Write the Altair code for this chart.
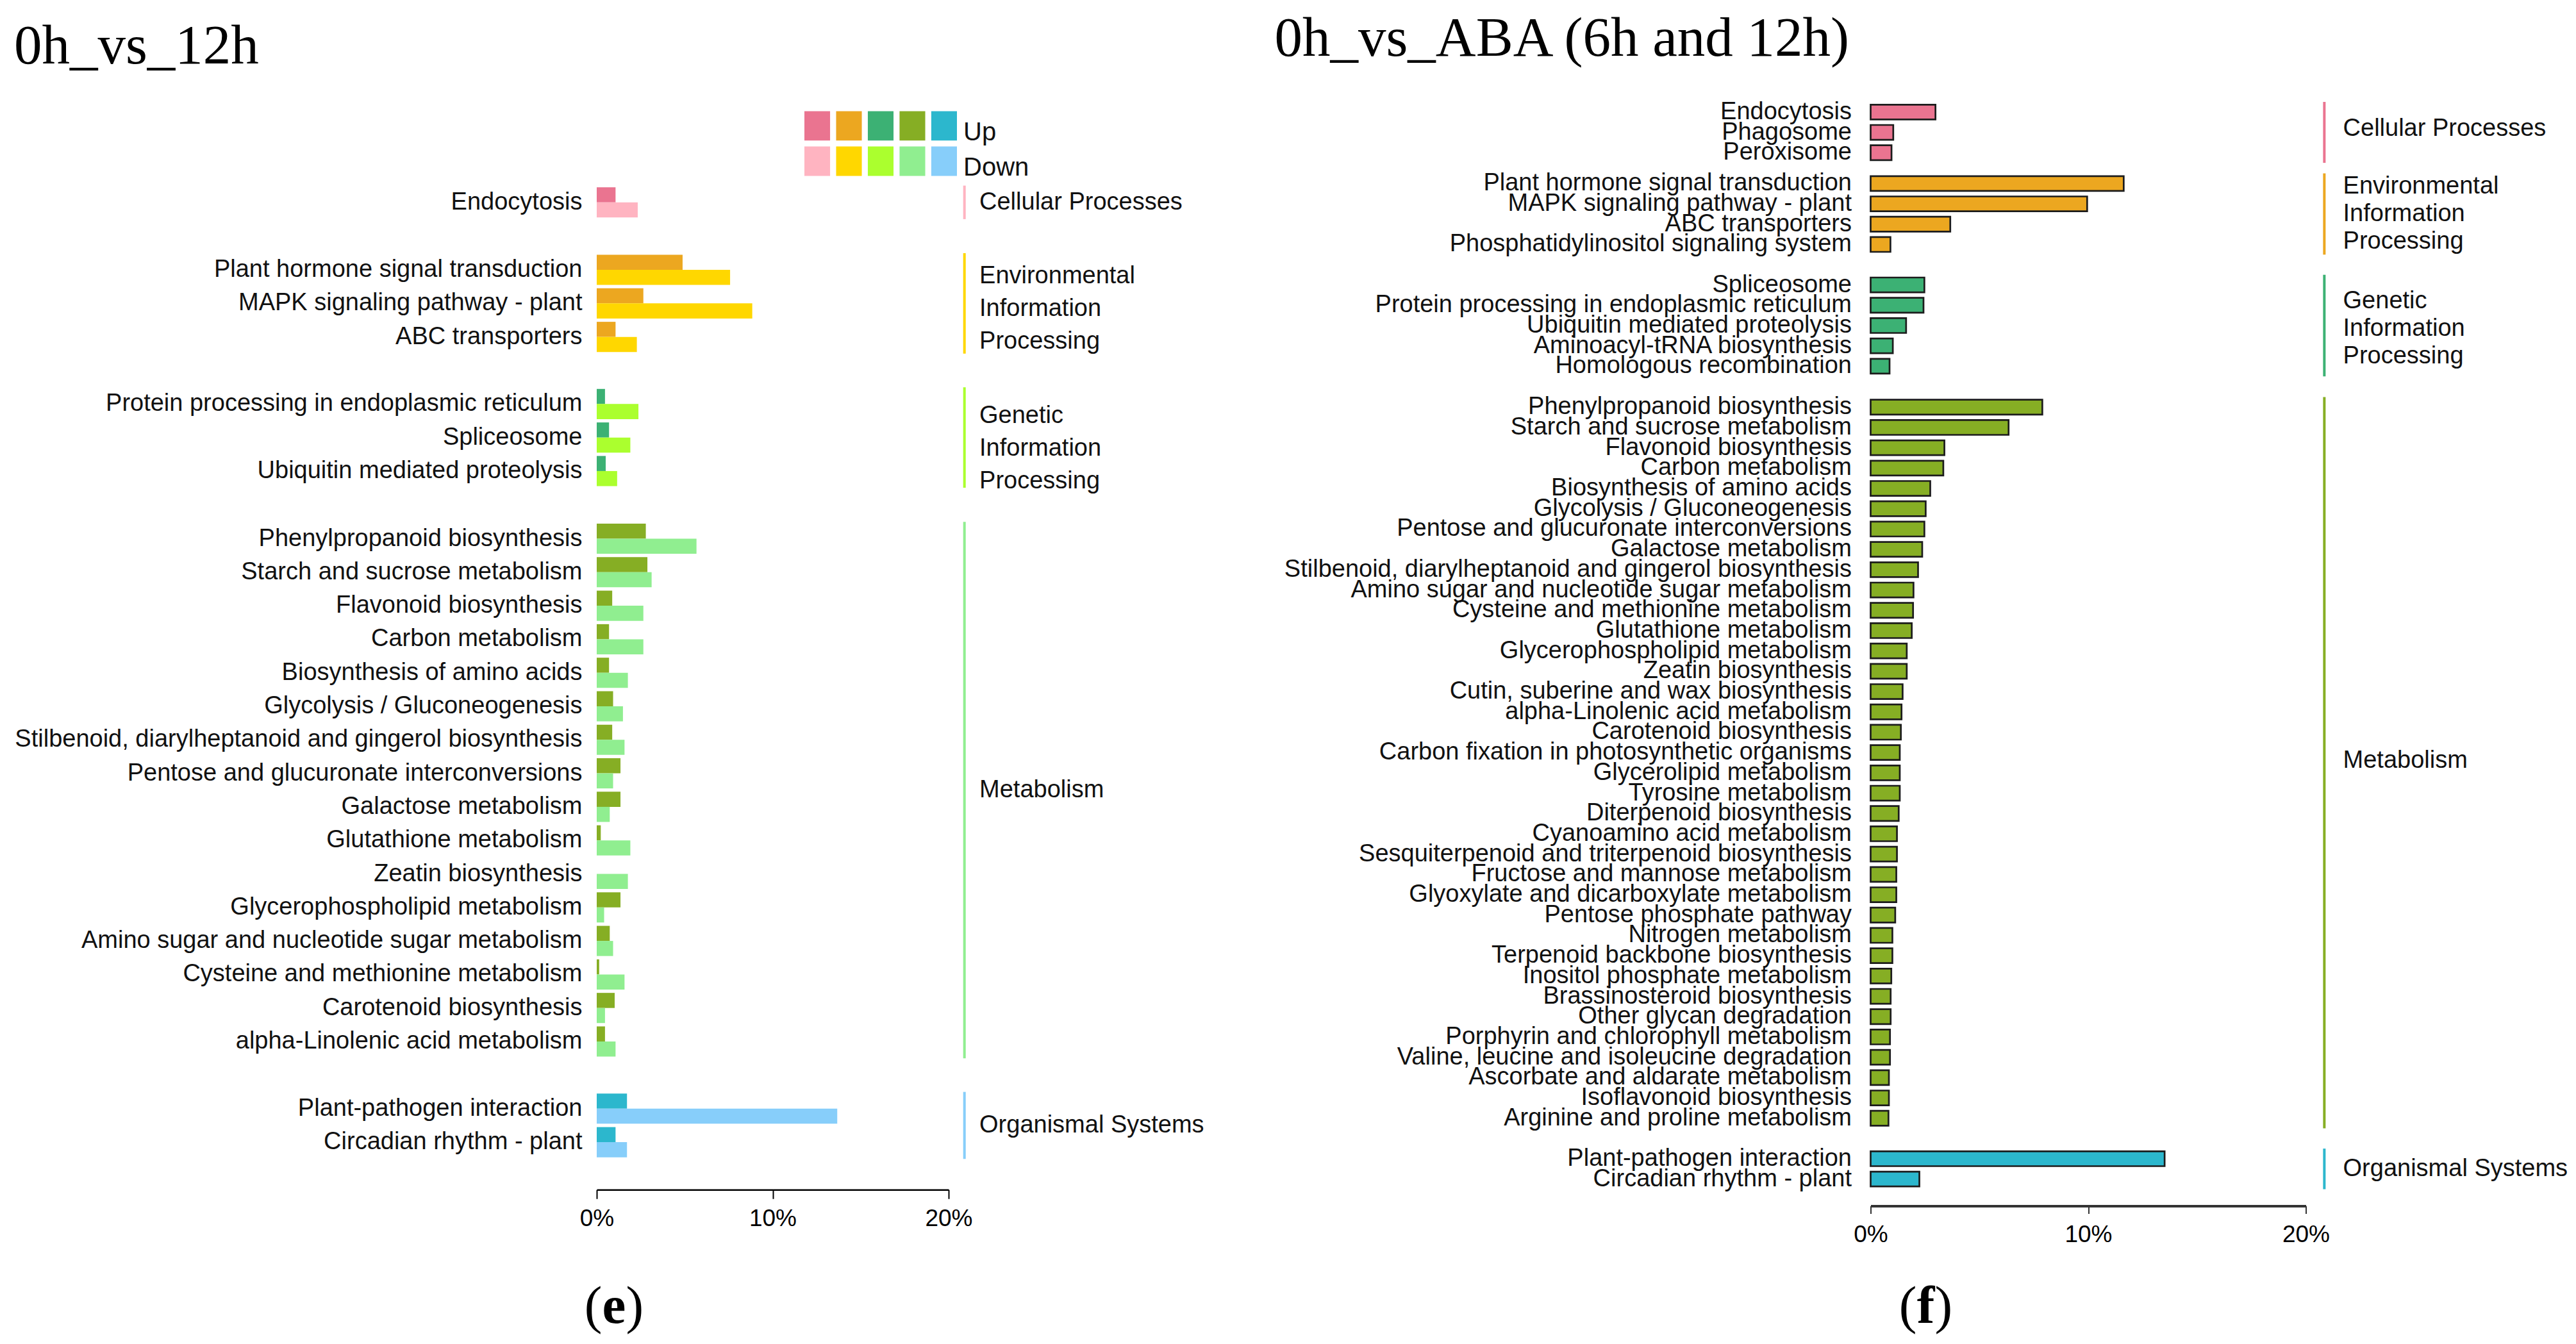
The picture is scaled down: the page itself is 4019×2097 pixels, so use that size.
import altair as alt
import pandas as pd

# ---------------------------------------------------------------- data
GROUP_NAMES = ["Cellular Processes", "Environmental Information Processing",
               "Genetic Information Processing", "Metabolism", "Organismal Systems"]
GROUP_LABELS = ["Cellular Processes", "Environmental\nInformation\nProcessing",
                "Genetic\nInformation\nProcessing", "Metabolism", "Organismal Systems"]
UP_COLORS = ["#EA7490", "#ECA720", "#3CB174", "#86AE24", "#2CB7CD"]
DOWN_COLORS = ["#FFB4C1", "#FFD700", "#ABFF2E", "#90EE90", "#87CEFA"]
DIRECTIONS = ["Up", "Down"]
TICKS = [0, 10, 20]

# panel (e): 0h_vs_12h  (percent of genes, up / down)
E_TITLE = "0h_vs_12h"
E_CAPTION = "e"
E_CELLULAR = ["Endocytosis"]
E_CELLULAR_UP = [1.07]
E_CELLULAR_DOWN = [2.33]
E_ENV = ["Plant hormone signal transduction", "MAPK signaling pathway - plant", "ABC transporters"]
E_ENV_UP = [4.88, 2.65, 1.07]
E_ENV_DOWN = [7.58, 8.84, 2.28]
E_GEN = ["Protein processing in endoplasmic reticulum", "Spliceosome", "Ubiquitin mediated proteolysis"]
E_GEN_UP = [0.47, 0.70, 0.51]
E_GEN_DOWN = [2.37, 1.91, 1.16]
E_MET = ["Phenylpropanoid biosynthesis", "Starch and sucrose metabolism", "Flavonoid biosynthesis",
         "Carbon metabolism", "Biosynthesis of amino acids", "Glycolysis / Gluconeogenesis",
         "Stilbenoid, diarylheptanoid and gingerol biosynthesis", "Pentose and glucuronate interconversions",
         "Galactose metabolism", "Glutathione metabolism", "Zeatin biosynthesis",
         "Glycerophospholipid metabolism", "Amino sugar and nucleotide sugar metabolism",
         "Cysteine and methionine metabolism", "Carotenoid biosynthesis", "alpha-Linolenic acid metabolism"]
E_MET_UP = [2.79, 2.88, 0.88, 0.70, 0.70, 0.93, 0.88, 1.35, 1.35, 0.23, 0.0, 1.35, 0.74, 0.14, 1.02, 0.47]
E_MET_DOWN = [5.67, 3.12, 2.65, 2.65, 1.77, 1.49, 1.58, 0.93, 0.74, 1.91, 1.77, 0.42, 0.93, 1.58, 0.47, 1.07]
E_ORG = ["Plant-pathogen interaction", "Circadian rhythm - plant"]
E_ORG_UP = [1.72, 1.07]
E_ORG_DOWN = [13.67, 1.72]

# panel (f): 0h_vs_ABA (6h and 12h)
F_TITLE = "0h_vs_ABA (6h and 12h)"
F_CAPTION = "f"
F_CELLULAR = ["Endocytosis", "Phagosome", "Peroxisome"]
F_CELLULAR_VAL = [2.98, 1.04, 0.96]
F_ENV = ["Plant hormone signal transduction", "MAPK signaling pathway - plant", "ABC transporters",
         "Phosphatidylinositol signaling system"]
F_ENV_VAL = [11.63, 9.95, 3.66, 0.91]
F_GEN = ["Spliceosome", "Protein processing in endoplasmic reticulum", "Ubiquitin mediated proteolysis",
         "Aminoacyl-tRNA biosynthesis", "Homologous recombination"]
F_GEN_VAL = [2.47, 2.43, 1.63, 1.02, 0.87]
F_MET = ["Phenylpropanoid biosynthesis", "Starch and sucrose metabolism", "Flavonoid biosynthesis",
         "Carbon metabolism", "Biosynthesis of amino acids", "Glycolysis / Gluconeogenesis",
         "Pentose and glucuronate interconversions", "Galactose metabolism",
         "Stilbenoid, diarylheptanoid and gingerol biosynthesis", "Amino sugar and nucleotide sugar metabolism",
         "Cysteine and methionine metabolism", "Glutathione metabolism", "Glycerophospholipid metabolism",
         "Zeatin biosynthesis", "Cutin, suberine and wax biosynthesis", "alpha-Linolenic acid metabolism",
         "Carotenoid biosynthesis", "Carbon fixation in photosynthetic organisms", "Glycerolipid metabolism",
         "Tyrosine metabolism", "Diterpenoid biosynthesis", "Cyanoamino acid metabolism",
         "Sesquiterpenoid and triterpenoid biosynthesis", "Fructose and mannose metabolism",
         "Glyoxylate and dicarboxylate metabolism", "Pentose phosphate pathway", "Nitrogen metabolism",
         "Terpenoid backbone biosynthesis", "Inositol phosphate metabolism", "Brassinosteroid biosynthesis",
         "Other glycan degradation", "Porphyrin and chlorophyll metabolism",
         "Valine, leucine and isoleucine degradation", "Ascorbate and aldarate metabolism",
         "Isoflavonoid biosynthesis", "Arginine and proline metabolism"]
F_MET_VAL = [7.89, 6.34, 3.39, 3.34, 2.74, 2.53, 2.47, 2.37, 2.18, 1.97, 1.95, 1.89, 1.66, 1.66, 1.47,
             1.42, 1.39, 1.34, 1.34, 1.34, 1.29, 1.21, 1.21, 1.18, 1.18, 1.13, 1.00, 1.00, 0.95, 0.92,
             0.92, 0.89, 0.89, 0.84, 0.84, 0.82]
F_ORG = ["Plant-pathogen interaction", "Circadian rhythm - plant"]
F_ORG_VAL = [13.51, 2.24]

# ---------------------------------------------------------------- style
SANS = "Liberation Sans"
SERIF = "Liberation Serif"
TXT = "#111111"
E_STEP, E_W = 52.3, 549
F_STEP, F_W = 31.7, 679
E_LABEL_DY = [0, 9, 17, 0, 0]      # vertical nudge of the side group labels (px)
F_LABEL_DY = [-6, 0, 5, -3, 0]

COLOR = alt.Scale(
    domain=[f"{g}|{d}" for g in range(5) for d in DIRECTIONS],
    range=[c for g in range(5) for c in (UP_COLORS[g], DOWN_COLORS[g])],
)


def x_axis(offset, tick, pad, dw, col):
    return alt.Axis(values=TICKS, labelExpr="datum.value + '%'", grid=False, domainColor=col,
                    domainWidth=dw, tickColor=col, tickWidth=2, tickSize=tick, labelFont=SANS,
                    labelFontSize=37, labelColor="#000000", labelPadding=pad, labelFlush=False,
                    offset=offset, title=None)


def y_axis(pad):
    return alt.Axis(title=None, ticks=False, domain=False, labelFont=SANS, labelFontSize=38,
                    labelColor=TXT, labelPadding=pad, labelLimit=0)


def caption(letter, cx, base, lw):
    d = pd.DataFrame({"t": [letter], "l": ["("], "r": [")"]})
    common = dict(font=SERIF, fontSize=83, baseline="alphabetic", color="#000000")
    return [
        alt.Chart(d).mark_text(align="right", **common).encode(x=alt.value(cx - lw / 2), y=alt.value(base), text="l:N"),
        alt.Chart(d).mark_text(align="center", fontWeight="bold", **common).encode(x=alt.value(cx), y=alt.value(base), text="t:N"),
        alt.Chart(d).mark_text(align="left", **common).encode(x=alt.value(cx + lw / 2), y=alt.value(base), text="r:N"),
    ]


def group_marks(gi, h, line_col, line_x, text_x, lh, dy):
    label = GROUP_LABELS[gi]
    n_lines = label.count("\n") + 1
    lab = pd.DataFrame({"label": [label]})
    rule = alt.Chart(lab).mark_rule(color=line_col, strokeWidth=4).encode(
        x=alt.datum(line_x), y=alt.value(0), y2=alt.value(h))
    text = alt.Chart(lab).mark_text(align="left", baseline="middle", font=SANS, fontSize=38,
                                    lineHeight=lh, lineBreak="\n", color=TXT).encode(
        x=alt.datum(text_x), y=alt.value(h / 2 - (n_lines - 1) * lh / 2 + dy), text="label:N")
    return [rule, text]


def e_group(gi, paths, up, down, extra=(), bottom=False):
    h = E_STEP * len(paths)
    rows = []
    for p, u, d in zip(paths, up, down):
        rows.append(dict(pathway=p, dir="Up", value=u, key=f"{gi}|Up"))
        rows.append(dict(pathway=p, dir="Down", value=d, key=f"{gi}|Down"))
    df = pd.DataFrame(rows)
    xa = x_axis(48, 14, 13, 2.5, "#000000") if bottom else None
    bars = alt.Chart(df).mark_bar().encode(
        x=alt.X("value:Q", scale=alt.Scale(domain=[0, 20], nice=False), axis=xa),
        y=alt.Y("pathway:N", sort=paths, scale=alt.Scale(paddingInner=0.1, paddingOuter=0.05), axis=y_axis(23)),
        yOffset=alt.YOffset("dir:N", sort=DIRECTIONS, scale=alt.Scale(paddingInner=0, paddingOuter=0)),
        color=alt.Color("key:N", scale=COLOR, legend=None),
    )
    layers = [bars] + group_marks(gi, h, DOWN_COLORS[gi], 20.9, 21.75, 51, E_LABEL_DY[gi]) + list(extra)
    return alt.layer(*layers).properties(width=E_W, height=h)


def f_group(gi, paths, vals, extra=(), bottom=False):
    h = F_STEP * len(paths)
    df = pd.DataFrame({"pathway": paths, "value": vals, "key": [f"{gi}|Up"] * len(paths)})
    xa = x_axis(26, 12, 15, 4, "#333333") if bottom else None
    bars = alt.Chart(df).mark_bar(stroke="#1c1c1c", strokeWidth=2.7).encode(
        x=alt.X("value:Q", scale=alt.Scale(domain=[0, 20], nice=False), axis=xa),
        y=alt.Y("pathway:N", sort=paths, scale=alt.Scale(paddingInner=0.27, paddingOuter=0.135), axis=y_axis(30)),
        color=alt.Color("key:N", scale=COLOR, legend=None),
    )
    layers = [bars] + group_marks(gi, h, UP_COLORS[gi], 20.85, 21.71, 43, F_LABEL_DY[gi]) + list(extra)
    return alt.layer(*layers).properties(width=F_W, height=h)


# ---------------------------------------------------------------- legend + titles
leg_df = pd.DataFrame([dict(group=GROUP_NAMES[g], dir=d, key=f"{g}|{d}") for g in range(5) for d in DIRECTIONS])
leg_rects = alt.Chart(leg_df).mark_rect().encode(
    x=alt.X("group:N", sort=GROUP_NAMES, axis=None,
            scale=alt.Scale(range=[324, 562], paddingInner=0.19, paddingOuter=0)),
    y=alt.Y("dir:N", sort=DIRECTIONS, axis=None,
            scale=alt.Scale(range=[14.4, 115.4], paddingInner=0.17, paddingOuter=0)),
    color=alt.Color("key:N", scale=COLOR, legend=None),
)
leg_text = alt.Chart(pd.DataFrame({"dir": DIRECTIONS})).mark_text(
    align="left", baseline="alphabetic", font=SANS, fontSize=40, color=TXT).encode(
    x=alt.value(572), y=alt.Y("dir:N", sort=DIRECTIONS, bandPosition=1, axis=None), text="dir:N")
title_e = alt.Chart(pd.DataFrame({"t": [E_TITLE]})).mark_text(
    align="left", baseline="alphabetic", font=SERIF, fontSize=87, color="#000000").encode(
    x=alt.value(-909), y=alt.value(-59.6), text="t:N")
legend_chart = alt.layer(leg_rects, leg_text, title_e).properties(width=E_W, height=124)

title_f = alt.Chart(pd.DataFrame({"t": [F_TITLE]})).mark_text(
    align="left", baseline="alphabetic", font=SERIF, fontSize=87, color="#000000").encode(
    x=alt.value(-930), y=alt.value(-71.6), text="t:N")

# ---------------------------------------------------------------- panels
e_charts = [
    e_group(0, E_CELLULAR, E_CELLULAR_UP, E_CELLULAR_DOWN),
    e_group(1, E_ENV, E_ENV_UP, E_ENV_DOWN),
    e_group(2, E_GEN, E_GEN_UP, E_GEN_DOWN),
    e_group(3, E_MET, E_MET_UP, E_MET_DOWN),
    e_group(4, E_ORG, E_ORG_UP, E_ORG_DOWN, extra=caption(E_CAPTION, 27, 360.7, 37), bottom=True),
]
f_charts = [
    f_group(0, F_CELLULAR, F_CELLULAR_VAL, extra=[title_f]),
    f_group(1, F_ENV, F_ENV_VAL),
    f_group(2, F_GEN, F_GEN_VAL),
    f_group(3, F_MET, F_MET_VAL),
    f_group(4, F_ORG, F_ORG_VAL, extra=caption(F_CAPTION, 86, 272, 28), bottom=True),
]

# the Genetic group label hangs a little below its panel, so the gap after it is narrowed to match
e_upper = alt.vconcat(e_charts[0], e_charts[1], e_charts[2], spacing=48.3)
e_lower = alt.vconcat(e_charts[3], e_charts[4], spacing=48.3)
left_panel = alt.vconcat(legend_chart, alt.vconcat(e_upper, e_lower, spacing=41.75), spacing=4.6)
right_panel = alt.vconcat(alt.vconcat(f_charts[0], f_charts[1], spacing=9.5),
                          f_charts[2], f_charts[3], f_charts[4], spacing=24.7)

chart = alt.hconcat(left_panel, right_panel, spacing=109.5).properties(
    padding={"left": 14, "top": 9, "right": 0, "bottom": 0}
).configure_view(stroke=None)

chart.save("out.html", embed_options={"renderer": "svg", "actions": False})
